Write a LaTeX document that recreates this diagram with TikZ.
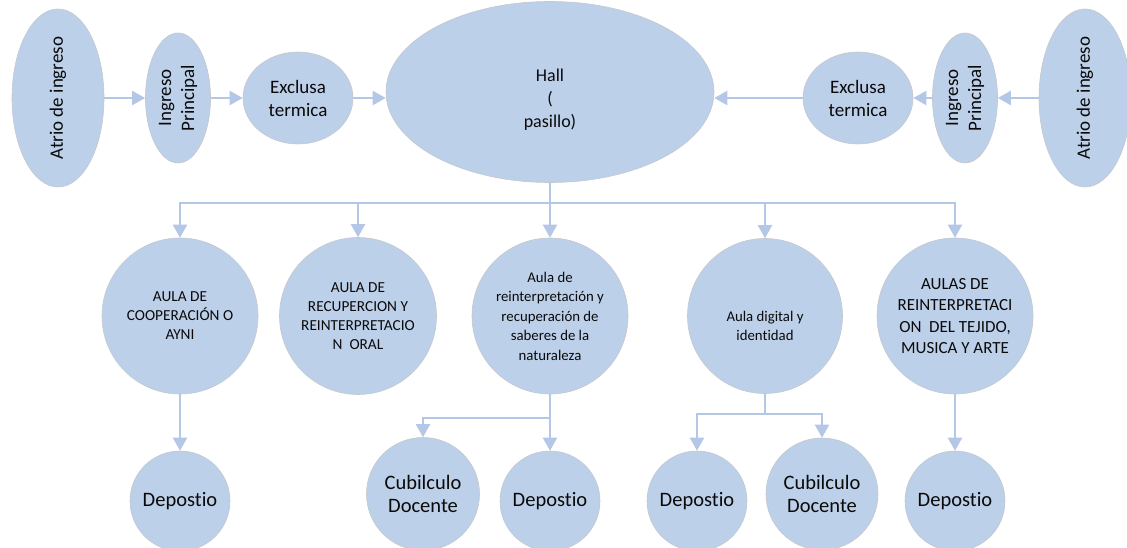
\documentclass[tikz,border=0pt]{standalone}
\usepackage{fontspec}
\setmainfont[Ligatures=NoCommon]{Carlito}
\usetikzlibrary{arrows.meta,shapes.geometric}
\definecolor{fillc}{HTML}{BDD0E9}
\definecolor{edgec}{HTML}{C4C8CE}
\definecolor{linec}{HTML}{B4C7E7}
\definecolor{txt}{HTML}{0A0A0A}
\tikzset{
  bub/.style={fill=fillc, draw=edgec, line width=0.6pt, inner sep=0pt, align=center, text=txt},
  ell/.style={bub, ellipse},
  circ/.style={bub, circle},
  lbl/.style={inner sep=0pt, align=center, text=txt},
  arr/.style={draw=linec, line width=2.2pt, -{Triangle[length=13pt,width=14pt]}},
  ln/.style={draw=linec, line width=2.2pt},
  fA/.style={font=\fontsize{19}{23}\selectfont},
  fB/.style={font=\fontsize{15.3}{19}\selectfont},
  fC/.style={font=\fontsize{14.8}{19.5}\selectfont},
  fD/.style={font=\fontsize{17}{21.5}\selectfont},
  fE/.style={font=\fontsize{20.5}{22.5}\selectfont},
}
\begin{document}
\begin{tikzpicture}[x=1pt,y=-1pt]
\clip (0,0) rectangle (1127,548);
\fill[white] (0,0) rectangle (1127,548);
% top row
\node[ell, fA, minimum width=92, minimum height=178] (atrioL) at (58,98)
  {\rotatebox{90}{Atrio de ingreso}};
\node[ell, fA, minimum width=65, minimum height=130] (ingL) at (178,98)
  {\rotatebox{90}{\begin{tabular}{@{}c@{}}Ingreso\\Principal\end{tabular}}};
\node[ell, fA, minimum width=110, minimum height=92] (exL) at (298,98)
  {Exclusa\\termica};
\node[ell, minimum width=328, minimum height=181] (hall) at (550,92) {};
\node[lbl, font=\fontsize{18}{23}\selectfont] (hallt) at (550,100) {Hall\\(\\pasillo)};
\node[ell, fA, minimum width=110, minimum height=92] (exR) at (858,98)
  {Exclusa\\termica};
\node[ell, fA, minimum width=65, minimum height=130] (ingR) at (965,98)
  {\rotatebox{90}{\begin{tabular}{@{}c@{}}Ingreso\\Principal\end{tabular}}};
\node[ell, fA, minimum width=92, minimum height=178] (atrioR) at (1085,98)
  {\rotatebox{90}{Atrio de ingreso}};
\draw[arr] (atrioL.east) -- (ingL.west);
\draw[arr] (ingL.east) -- (exL.west);
\draw[arr] (exL.east) -- (exL.east -| hall.west);
\draw[arr] (exR.west) -- (exR.west -| hall.east);
\draw[arr] (ingR.west) -- (exR.east);
\draw[arr] (atrioR.west) -- (ingR.east);
% second row
\node[circ, fB, minimum size=156] (c1) at (180,316) {AULA DE\\COOPERACIÓN O\\AYNI};
\node[circ, fB, minimum size=157] (c2) at (358,316) {AULA DE\\RECUPERCION Y\\REINTERPRETACIO\\N\ \ ORAL};
\node[circ, fC, minimum size=156] (c3) at (550,316) {Aula de\\reinterpretación y\\recuperación de\\saberes de la\\naturaleza};
\node[circ, minimum size=155] (c4) at (765,316) {};
\node[lbl, font=\fontsize{14.8}{18.5}\selectfont] (c4t) at (765,326) {Aula digital y\\identidad};
\node[circ, fD, minimum size=156] (c5) at (955,316) {AULAS DE\\REINTERPRETACI\\ON\ \ DEL TEJIDO,\\MUSICA Y ARTE};
\coordinate (bus) at (550,203);
\draw[ln] (hall.south) -- (bus);
\draw[arr] (bus) -| (c1.north);
\draw[arr] (bus) -| (c2.north);
\draw[arr] (bus) -- (c3.north);
\draw[arr] (bus) -| (c4.north);
\draw[arr] (bus) -| (c5.north);
% third row
\node[circ, fE, minimum size=100] (d1) at (180,501) {Depostio};
\node[circ, fE, minimum size=113] (k1) at (423,494) {Cubilculo\\Docente};
\node[circ, fE, minimum size=100] (d2) at (550,501) {Depostio};
\node[circ, fE, minimum size=100] (d3) at (697,501) {Depostio};
\node[circ, fE, minimum size=112] (k2) at (822,494) {Cubilculo\\Docente};
\node[circ, fE, minimum size=100] (d4) at (955,501) {Depostio};
\draw[arr] (c1.south) -- (d1.north);
\coordinate (b3) at (550,418);
\draw[ln] (c3.south) -- (b3);
\draw[arr] (b3) -| (k1.north);
\draw[arr] (b3) -- (d2.north);
\coordinate (b4) at (765,414);
\draw[ln] (c4.south) -- (b4);
\draw[arr] (b4) -| (d3.north);
\draw[arr] (b4) -| (k2.north);
\draw[arr] (c5.south) -- (d4.north);
\end{tikzpicture}
\end{document}
